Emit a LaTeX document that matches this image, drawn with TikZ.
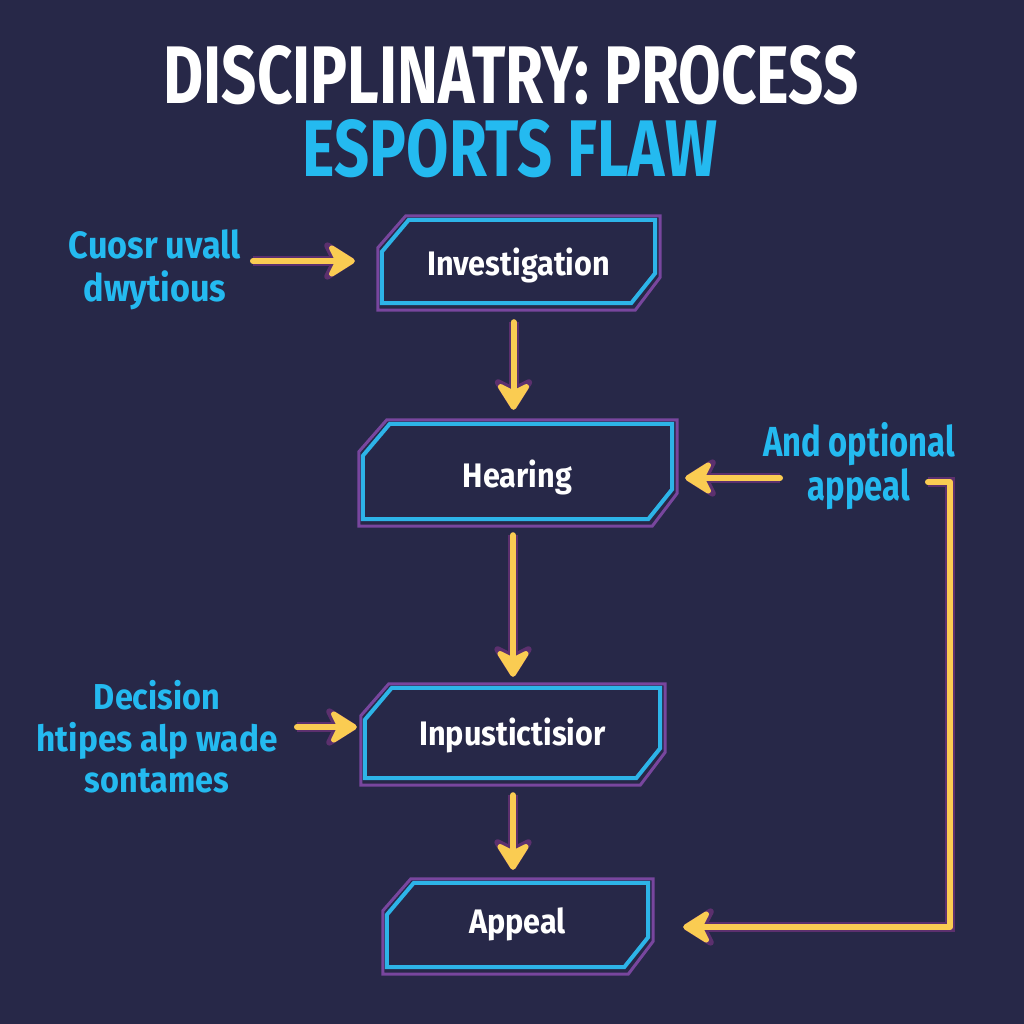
\documentclass[tikz,border=0pt]{standalone}
\usepackage{fontspec}
\usepackage{graphicx}
\usetikzlibrary{arrows.meta,calc}
\newfontfamily\cf{Fira Sans}[FakeStretch=0.78]
\newfontfamily\cfw{Fira Sans}[FakeStretch=0.9]
\definecolor{bg}{RGB}{39,40,72}
\definecolor{cy}{RGB}{45,180,232}
\definecolor{cyt}{RGB}{36,186,240}
\definecolor{pu}{RGB}{120,70,158}
\definecolor{yl}{RGB}{250,204,82}
\definecolor{aedge}{RGB}{92,48,110}
\tikzset{
  boxtxt/.style={inner sep=0pt, text=white, text depth=0pt, font=\cfw\bfseries\fontsize{34}{38}\selectfont},
  lbl/.style 2 args={inner sep=0pt, text=cyt, align=center, font=\cfw\bfseries\fontsize{#1}{#2}\selectfont},
  yarr/.style={
    preaction={draw=aedge, line width=10pt, -{Stealth[length=38pt,width=48pt,inset=12pt,round]}},
    draw=yl, line width=6pt, line cap=round, line join=round,
    -{Stealth[length=32pt,width=40pt,inset=10pt,round]}},
  pline/.style={draw=pu, line width=3pt},
  cline/.style={draw=cy, line width=4pt}
}
\newcommand\chbox[1]{%
  \draw[pline] ($(#1.south west)+(-4,7)$) -- ($(#1.north west)+(-4,28)$) -- ($(#1.north west)+(24,-4)$) -- ($(#1.north east)+(5,-4)$) -- ($(#1.south east)+(5,-26)$) -- ($(#1.south east)+(-20,7)$) -- cycle;
  \draw[cline] (#1.south west) -- ($(#1.north west)+(0,32)$) -- ($(#1.north west)+(27,0)$) -- (#1.north east) -- ($(#1.south east)+(0,-30)$) -- ($(#1.south east)+(-24,0)$) -- cycle;}
\begin{document}
\begin{tikzpicture}[x=1pt,y=-1pt]
\fill[bg] (0,0) rectangle (1024,1024);
\useasboundingbox (0,0) rectangle (1024,1024);
% titles
\node[inner sep=0pt, text=white] (t1) at (511,75) {\resizebox{695pt}{58pt}{\cf\bfseries DISCIPLINATRY: PROCESS}};
\node[inner sep=0pt, text=cyt] (t2) at (510,149) {\resizebox{414pt}{57pt}{\cf\bfseries ESPORTS FLAW}};
% boxes
\node[boxtxt, text height=27pt, minimum width=273pt, minimum height=83pt] (b1) at (518.5,261.5) {Investigation};
\node[boxtxt, text height=31pt, minimum width=309pt, minimum height=95pt] (b2) at (517.5,471.5) {Hearing};
\node[boxtxt, text height=24pt, minimum width=295pt, minimum height=90pt] (b3) at (512.5,733) {Inpustictisior};
\node[boxtxt, text height=17pt, minimum width=261pt, minimum height=84pt] (b4) at (517.5,925) {Appeal};
\chbox{b1}\chbox{b2}\chbox{b3}\chbox{b4}
% labels
\node[lbl={38}{43}] (l1) at (155,270) {Cuosr uvall\\dwytious};
\node[lbl={36}{41.5}] (l2) at (157,737) {Decision\\\scalebox{1.03}[1]{htipes alp wade}\\sontames};
\node[lbl={42}{44}, font=\cf\bfseries\fontsize{42}{44}\selectfont] (l3) at (859,466) {And optional\\appeal};
% connectors
\coordinate (s1) at (253,261);
\coordinate (s5) at (297,727);
\coordinate (s6) at (780,478);
\coordinate (s7) at (928,482);
\draw[yarr, shorten >=27pt] (s1) -- (s1 -| b1.west);
\draw[yarr, shorten <=19pt, shorten >=14pt] ([xshift=-5pt]b1.south) -- ([xshift=-5pt]b1.south |- b2.north);
\draw[yarr, shorten <=16pt, shorten >=11pt] ([xshift=-4.5pt]b2.south) -- ([xshift=-4.5pt]b2.south |- b3.north);
\draw[yarr, shorten <=17pt, shorten >=13pt] ([xshift=0.5pt]b3.south) -- ([xshift=0.5pt]b3.south |- b4.north);
\draw[yarr, shorten >=8pt] (s5) -- (s5 -| b3.west);
\draw[yarr, shorten >=13pt] (s6) -- (s6 -| b2.east);
\draw[yarr, shorten >=35pt] (s7) -- ++(22,0) |- ([yshift=-2pt]b4.east);
\end{tikzpicture}
\end{document}
